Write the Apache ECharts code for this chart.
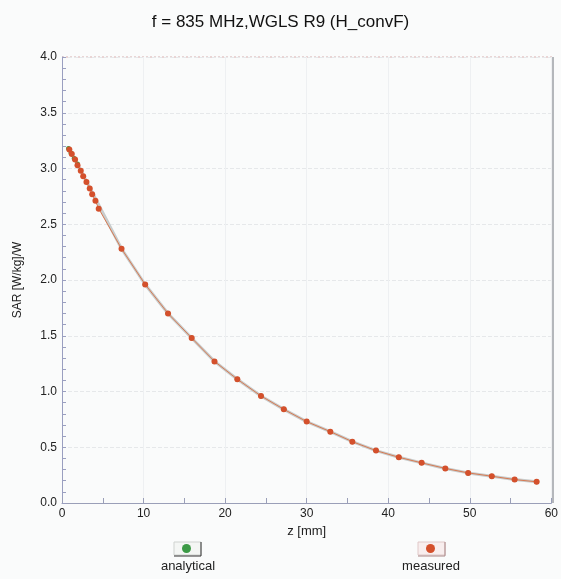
<!DOCTYPE html>
<html><head><meta charset="utf-8">
<script src="https://cdn.jsdelivr.net/npm/echarts@6/dist/echarts.min.js"></script>
<style>html,body{margin:0;padding:0;background:#fafbfb}#c{width:561px;height:579px}</style>
</head><body><div id="c"></div>
<script>
const titleText = 'f = 835 MHz,WGLS R9 (H_convF)';
const zMeasured = [0.9,1.2,1.6,1.9,2.3,2.6,3.0,3.4,3.7,4.1,4.5,7.3,10.2,13.0,15.9,18.7,21.5,24.4,27.2,30.0,32.9,35.6,38.5,41.3,44.1,47.0,49.8,52.7,55.5,58.2];
const sarMeasured = [3.17,3.13,3.08,3.03,2.98,2.93,2.88,2.82,2.77,2.71,2.64,2.28,1.96,1.70,1.48,1.27,1.11,0.96,0.84,0.73,0.64,0.55,0.47,0.41,0.36,0.31,0.27,0.24,0.21,0.19];
const zAnalytical = [0.8,1.1,1.5,1.9,7.3,10.2,13.0,15.9,18.7,21.5,24.4,27.2,30.0,32.9,35.6,38.5,41.3,44.1,47.0,49.8,52.7,55.5,58.2];
const sarAnalytical = [3.18,3.14,3.09,3.04,2.28,1.96,1.70,1.48,1.27,1.11,0.96,0.84,0.73,0.64,0.55,0.47,0.41,0.36,0.31,0.27,0.24,0.21,0.19];
const legendNames = ['analytical','measured'];

const G = {left:62,right:8,top:57,bottom:76};
const W = 561, H = 579;
const chart = echarts.init(document.getElementById('c'));
chart.setOption({
  backgroundColor:'#fafbfb',
  animation:false,
  title:{text:titleText,left:'center',top:9,textStyle:{fontFamily:'Liberation Sans',fontWeight:'normal',fontSize:17,color:'#111'}},
  grid:G,
  legend:[
    {data:[legendNames[0]],left:177,top:539,icon:'circle',itemWidth:9,itemHeight:9,formatter:()=>'',selectedMode:false},
    {data:[legendNames[1]],left:421,top:539,icon:'circle',itemWidth:9,itemHeight:9,formatter:()=>'',selectedMode:false}
  ],
  graphic:[
    {type:'rect',shape:{x:174,y:542,width:27,height:13},style:{fill:'#f4f6f4',stroke:'#cfd2cf',lineWidth:1},z:-1},
    {type:'line',shape:{x1:174,y1:556,x2:201,y2:556},style:{stroke:'#333',lineWidth:1}},
    {type:'line',shape:{x1:201,y1:542,x2:201,y2:556},style:{stroke:'#333',lineWidth:1}},
    {type:'rect',shape:{x:418,y:542,width:27,height:13},style:{fill:'#f8eeee',stroke:'#e0c8c8',lineWidth:1},z:-1},
    {type:'line',shape:{x1:418,y1:556,x2:445,y2:556},style:{stroke:'#a88',lineWidth:1}},
    {type:'line',shape:{x1:445,y1:542,x2:445,y2:556},style:{stroke:'#a88',lineWidth:1}},
    {type:'text',x:188,y:560,style:{text:legendNames[0],align:'center',fontFamily:'Liberation Sans',fontSize:13,fill:'#222'}},
    {type:'text',x:431,y:560,style:{text:legendNames[1],align:'center',fontFamily:'Liberation Sans',fontSize:13,fill:'#222'}},
    {type:'line',shape:{x1:W-G.right,y1:G.top,x2:W-G.right,y2:H-G.bottom},style:{stroke:'#9da0a6',lineWidth:1.5}},
    {type:'line',shape:{x1:G.left,y1:G.top,x2:W-G.right,y2:G.top},style:{stroke:'#d8b0b0',lineWidth:1,lineDash:[2,2]}}
  ],
  xAxis:{type:'value',min:0,max:60,interval:10,name:'z [mm]',nameLocation:'middle',nameGap:22,
    nameTextStyle:{fontFamily:'Liberation Sans',fontSize:13,color:'#222'},
    axisLine:{lineStyle:{color:'#9a9fb8'}},
    axisTick:{inside:true,length:5,lineStyle:{color:'#9a9fb8'}},
    minorTick:{show:true,splitNumber:2,length:5,lineStyle:{color:'#9a9fb8'}},
    axisLabel:{fontFamily:'Liberation Sans',fontSize:12,color:'#222',margin:5},
    splitLine:{show:true,lineStyle:{color:'#eef0f2'}}},
  yAxis:{type:'value',min:0,max:4,interval:0.5,name:'SAR [W/kg]/W',nameLocation:'middle',nameGap:38,
    nameTextStyle:{fontFamily:'Liberation Sans',fontSize:12,color:'#222'},
    axisLine:{show:true,lineStyle:{color:'#9a9fc0'}},
    axisTick:{inside:true,length:4,lineStyle:{color:'#9a9fc0'}},
    minorTick:{show:true,splitNumber:5,length:4,lineStyle:{color:'#9a9fc0'}},
    axisLabel:{fontFamily:'Liberation Sans',fontSize:12,color:'#222',margin:5,formatter:v=>v.toFixed(1)},
    splitLine:{show:true,lineStyle:{color:'#e6e8ea',type:'dashed'}}},
  series:[
    {name:legendNames[0],type:'line',data:zAnalytical.map((z,i)=>[z,sarAnalytical[i]]),
      symbol:'circle',symbolSize:5,itemStyle:{color:'#3c9a46'},lineStyle:{color:'#c8cccc',width:3},z:2},
    {name:legendNames[1],type:'line',data:zMeasured.map((z,i)=>[z,sarMeasured[i]]),
      symbol:'circle',symbolSize:6,itemStyle:{color:'#d4502c'},lineStyle:{color:'#d77a52',width:1},z:3}
  ]
});
</script>
</body></html>
